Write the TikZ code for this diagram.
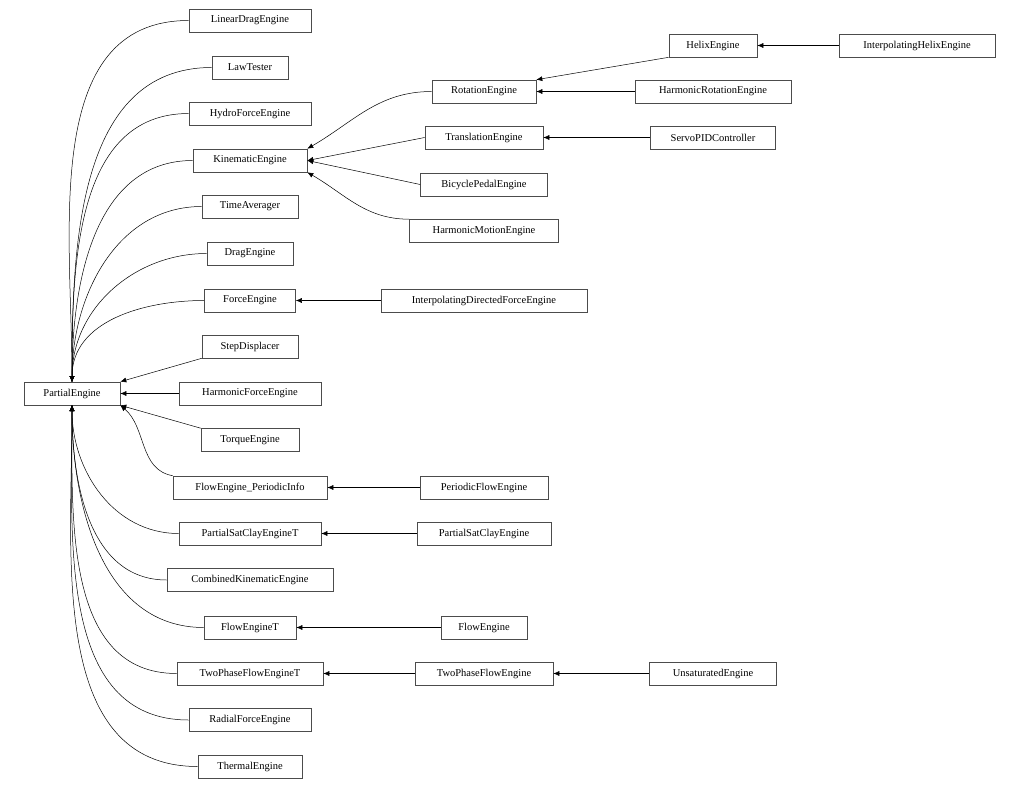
\documentclass[tikz,border=0pt]{standalone}
\usepackage{fontspec}
\setmainfont{Liberation Serif}
\usetikzlibrary{arrows.meta}
\begin{document}
\begin{tikzpicture}[x=1pt,y=-1pt,
 box/.style={draw=black!70,line width=0.6pt,minimum height=23pt,inner xsep=0pt,font=\fontsize{10.5}{12}\selectfont},
 e/.style={draw=black,line width=0.5pt,{Latex[length=6pt,width=5pt]}-}]
\useasboundingbox (0,0) rectangle (1020,790);
\def\N#1#2#3#4{\node[box,minimum width=#4pt] (#1) at (#2,#3) {#1};}
\N{PartialEngine}{72}{393.5}{96}
\N{LinearDragEngine}{250}{20.5}{122}
\N{LawTester}{250}{67.5}{76}
\N{HydroForceEngine}{250}{113.5}{122}
\N{KinematicEngine}{250}{160.5}{114}
\N{TimeAverager}{250}{206.5}{96}
\N{DragEngine}{250}{253.5}{86}
\N{ForceEngine}{250}{300.5}{91}
\N{StepDisplacer}{250}{346.5}{96}
\N{HarmonicForceEngine}{250}{393.5}{142}
\N{TorqueEngine}{250}{440}{98}
\node[box,minimum width=154pt] (FEPI) at (250,487.5) {FlowEngine\_PeriodicInfo};
\N{PartialSatClayEngineT}{250}{533.5}{142}
\N{CombinedKinematicEngine}{250}{580}{166}
\N{FlowEngineT}{250}{627.5}{92}
\N{TwoPhaseFlowEngineT}{250}{673.5}{146}
\N{RadialForceEngine}{250}{720}{122}
\N{ThermalEngine}{250}{766.5}{104}
\N{RotationEngine}{484}{91.5}{104}
\N{TranslationEngine}{484}{137.5}{118}
\N{BicyclePedalEngine}{484}{184.5}{127}
\N{HarmonicMotionEngine}{484}{231}{149}
\N{InterpolatingDirectedForceEngine}{484}{300.5}{206}
\N{PeriodicFlowEngine}{484}{487.5}{128}
\N{PartialSatClayEngine}{484}{533.5}{134}
\N{FlowEngine}{484}{627.5}{86}
\N{TwoPhaseFlowEngine}{484}{673.5}{138}
\N{HelixEngine}{713}{45.5}{88}
\N{HarmonicRotationEngine}{713}{91.5}{156}
\N{ServoPIDController}{713}{137.5}{125}
\N{UnsaturatedEngine}{713}{673.5}{127}
\N{InterpolatingHelixEngine}{917}{45.5}{156}
\coordinate (up) at (72,382);
\coordinate (dn) at (72,405);
\foreach \c in {LinearDragEngine,LawTester,HydroForceEngine,KinematicEngine,TimeAverager,DragEngine,ForceEngine}
  \draw[e] (up) to[out=90,in=180] (\c.west);
\foreach \c in {PartialSatClayEngineT,CombinedKinematicEngine,FlowEngineT,TwoPhaseFlowEngineT,RadialForceEngine,ThermalEngine}
  \draw[e] (dn) to[out=-90,in=180] (\c.west);
\draw[e] (PartialEngine.north east) -- (StepDisplacer.south west);
\draw[e] (PartialEngine.east) -- (HarmonicForceEngine.west);
\draw[e] (PartialEngine.south east) -- (TorqueEngine.north west);
\draw[e] (PartialEngine.south east) to[out=-40,in=170] (FEPI.north west);
\draw[e] (KinematicEngine.north east) to[out=30,in=180] (RotationEngine.west);
\draw[e] (KinematicEngine.east) -- (TranslationEngine.west);
\draw[e] (KinematicEngine.east) -- (BicyclePedalEngine.west);
\draw[e] (KinematicEngine.south east) to[out=-30,in=180] (HarmonicMotionEngine.north west);
\draw[e] (ForceEngine) -- (InterpolatingDirectedForceEngine);
\draw[e] (FEPI) -- (PeriodicFlowEngine);
\draw[e] (PartialSatClayEngineT) -- (PartialSatClayEngine);
\draw[e] (FlowEngineT) -- (FlowEngine);
\draw[e] (TwoPhaseFlowEngineT) -- (TwoPhaseFlowEngine);
\draw[e] (TwoPhaseFlowEngine) -- (UnsaturatedEngine);
\draw[e] (RotationEngine.north east) -- (HelixEngine.south west);
\draw[e] (RotationEngine) -- (HarmonicRotationEngine);
\draw[e] (TranslationEngine) -- (ServoPIDController);
\draw[e] (HelixEngine) -- (InterpolatingHelixEngine);
\end{tikzpicture}
\end{document}
